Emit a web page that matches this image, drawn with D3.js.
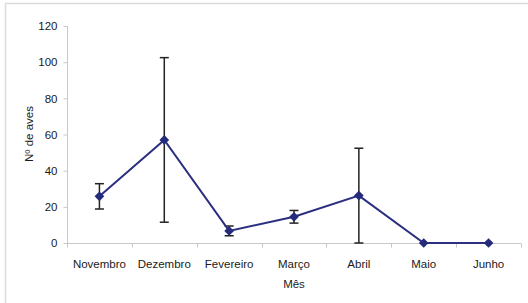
<!DOCTYPE html>
<html>
<head>
<meta charset="utf-8">
<script src="https://cdn.jsdelivr.net/npm/d3@7"></script>
<style>
  body { margin: 0; background: #fff; }
  text { font-family: "Liberation Sans", Arial, sans-serif; }
</style>
</head>
<body>
<div id="chart"></div>
<script>
// Data
var months = ["Novembro", "Dezembro", "Fevereiro", "Março", "Abril", "Maio", "Junho"];
var means = [25.8, 57, 6.7, 14.5, 26.2, 0, 0];
var errors = [7, 45.5, 2.7, 3.5, 26.2, 0, 0];
var yTicks = [0, 20, 40, 60, 80, 100, 120];

var width = 528, height = 303;
var margin = {top: 26, right: 7, bottom: 60, left: 67};
var fontSize = "11.5px", textColor = "#1a1a1a";

var svg = d3.select("#chart")
    .append("svg")
    .attr("width", width)
    .attr("height", height);

// light frame round the chart (only top and left show)
svg.append("rect")
    .attr("x", 5.5)
    .attr("y", 3.5)
    .attr("width", width)
    .attr("height", height)
    .style("fill", "none")
    .style("stroke", "#dcdcdc")
    .style("stroke-width", 1.5);

var x = d3.scaleBand()
    .domain(months)
    .range([margin.left, width - margin.right]);

var y = d3.scaleLinear()
    .domain([0, 120])
    .range([height - margin.bottom, margin.top]);

// y axis
var yAxis = svg.append("g")
    .attr("transform", "translate(" + (margin.left + 0.5) + ",0)")
    .call(d3.axisLeft(y).tickValues(yTicks).tickSize(4).tickPadding(6));
yAxis.selectAll("text").style("font-size", fontSize).style("fill", textColor);
yAxis.selectAll("line, path").style("stroke", "#c8c8c8");
yAxis.select(".domain").attr("d", "M0," + y(0) + "V" + y(120));

// x axis: ticks between categories
var xg = svg.append("g")
    .attr("transform", "translate(0," + (y(0) + 0.5) + ")");
xg.append("line")
    .attr("x1", margin.left)
    .attr("x2", width - margin.right)
    .style("stroke", "#c8c8c8");
xg.selectAll(".tk")
    .data(months.concat(["end"]))
    .enter()
    .append("line")
    .attr("x1", function(d, i) { return Math.round(margin.left + i * x.bandwidth()) + 0.5; })
    .attr("x2", function(d, i) { return Math.round(margin.left + i * x.bandwidth()) + 0.5; })
    .attr("y1", 0)
    .attr("y2", 4)
    .style("stroke", "#c8c8c8");
xg.selectAll(".lbl")
    .data(months)
    .enter()
    .append("text")
    .attr("x", function(d) { return x(d) + x.bandwidth() / 2; })
    .attr("y", 24)
    .attr("text-anchor", "middle")
    .style("font-size", fontSize)
    .style("fill", textColor)
    .text(function(d) { return d; });

// axis titles
svg.append("text")
    .attr("x", (margin.left + width - margin.right) / 2)
    .attr("y", 288)
    .attr("text-anchor", "middle")
    .style("font-size", fontSize)
    .style("fill", textColor)
    .text("Mês");

svg.append("text")
    .attr("transform", "translate(33," + 134 + ") rotate(-90)")
    .attr("text-anchor", "middle")
    .style("font-size", fontSize)
    .style("fill", textColor)
    .text("Nº de aves");

var cx = function(i) { return x(months[i]) + x.bandwidth() / 2; };

// error bars
var barData = means.map(function(m, i) {
    return {i: i, hi: m + errors[i], lo: Math.max(0, m - errors[i]), e: errors[i]};
}).filter(function(d) { return d.e > 0; });

var eb = svg.append("g")
    .selectAll("g")
    .data(barData)
    .enter()
    .append("g");
eb.append("line")
    .attr("x1", function(d) { return cx(d.i); })
    .attr("x2", function(d) { return cx(d.i); })
    .attr("y1", function(d) { return y(d.hi); })
    .attr("y2", function(d) { return y(d.lo); })
    .style("stroke", "#222")
    .style("stroke-width", 1.5);
eb.selectAll(".cap")
    .data(function(d) { return [[d.i, d.hi], [d.i, d.lo]]; })
    .enter()
    .append("line")
    .attr("x1", function(d) { return cx(d[0]) - 4.5; })
    .attr("x2", function(d) { return cx(d[0]) + 4.5; })
    .attr("y1", function(d) { return y(d[1]); })
    .attr("y2", function(d) { return y(d[1]); })
    .style("stroke", "#222")
    .style("stroke-width", 1.5);

// line
var line = d3.line()
    .x(function(d, i) { return cx(i); })
    .y(function(d) { return y(d); });

svg.append("path")
    .datum(means)
    .attr("d", line)
    .style("fill", "none")
    .style("stroke", "#2b2f80")
    .style("stroke-width", 2);

// diamond markers
svg.append("g")
    .selectAll("path")
    .data(means)
    .enter()
    .append("path")
    .attr("transform", function(d, i) { return "translate(" + cx(i) + "," + y(d) + ")"; })
    .attr("d", d3.symbol().type(d3.symbolDiamond2).size(60))
    .style("fill", "#262a7c");
</script>
</body>
</html>
